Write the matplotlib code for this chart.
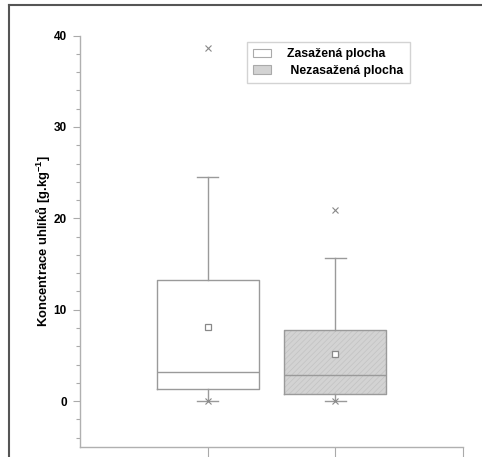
import numpy as np
import matplotlib
matplotlib.use("Agg")
import matplotlib.pyplot as plt
from matplotlib.patches import Patch
from matplotlib.lines import Line2D

plt.rcParams['font.family'] = ['Liberation Sans', 'DejaVu Sans']
plt.rcParams['font.weight'] = 'bold'
plt.rcParams['mathtext.fontset'] = 'custom'
plt.rcParams['mathtext.rm'] = 'Liberation Sans:bold'
plt.rcParams['mathtext.default'] = 'rm'
plt.rcParams['hatch.color'] = '#c2c2c2'
plt.rcParams['hatch.linewidth'] = 0.5

# box statistics
labels = ["Zasažená plocha", " Nezasažená plocha"]
positions = [1, 2]
q1 = [1.3, 0.8]
med = [3.2, 2.8]
q3 = [13.3, 7.8]
whis_lo = [0.0, 0.0]
whis_hi = [24.5, 15.7]
means = [8.1, 5.2]
fliers = [[38.6, 0.0], [20.9, 0.0]]
fills = ["white", "#d3d3d3"]

stats = []
for i in range(2):
    stats.append(dict(med=med[i], q1=q1[i], q3=q3[i], whislo=whis_lo[i],
                      whishi=whis_hi[i], mean=means[i], fliers=fliers[i]))

fig = plt.figure(figsize=(4.82, 4.57), dpi=100)
ax = fig.add_axes([0.166, 0.0225, 0.7946, 0.8995])

# fill of the second box (hatched grey)
ax.bar(positions[1], q3[1] - q1[1], bottom=q1[1], width=0.8,
       color=fills[1], edgecolor=None, hatch='//////', zorder=1)

gray = '#9a9a9a'
ax.bxp(stats, positions=positions, widths=0.8, capwidths=0.16,
       showmeans=True, showfliers=True, patch_artist=False,
       boxprops=dict(color=gray, linewidth=1.0),
       whiskerprops=dict(color=gray, linewidth=1.0),
       capprops=dict(color=gray, linewidth=1.0),
       medianprops=dict(color=gray, linewidth=1.0),
       meanprops=dict(marker='s', markersize=5, markerfacecolor='white',
                      markeredgecolor='#888888', markeredgewidth=0.9),
       flierprops=dict(marker='x', markersize=5, markeredgecolor='#888888',
                       markeredgewidth=0.8, linestyle='none'),
       zorder=2)

ax.set_xlim(0, 3)
ax.set_ylim(-5, 40)
ax.set_yticks([0, 10, 20, 30, 40])
ax.set_yticks(np.arange(-4, 40, 2), minor=True)
ax.set_xticks([1, 2, 3])
ax.set_xticklabels([])
ax.tick_params(axis='y', which='major', length=5, width=0.8, color='#aaaaaa',
               labelsize=8.5, pad=4.5)
ax.tick_params(axis='y', which='minor', length=3, width=0.8, color='#aaaaaa')
ax.tick_params(axis='x', which='major', length=7.5, width=0.8, color='#aaaaaa')

for s in ['top', 'right']:
    ax.spines[s].set_visible(False)
for s in ['left', 'bottom']:
    ax.spines[s].set_color('#b0b0b0')
    ax.spines[s].set_linewidth(1.0)

ax.set_ylabel("Koncentrace uhlíků [g.kg$^{-1}$]", fontsize=9.4,
              fontweight='bold', labelpad=1)

handles = [Patch(facecolor=fills[0], edgecolor='#aaaaaa', linewidth=0.8),
           Patch(facecolor=fills[1], edgecolor='#aaaaaa', linewidth=0.8)]
leg = ax.legend(handles, labels, loc='upper left',
                bbox_to_anchor=(0.436, 0.985), fontsize=8.8,
                frameon=True, fancybox=False, borderpad=0.5,
                handlelength=1.5, handleheight=0.65, handletextpad=1.3,
                labelspacing=0.4, borderaxespad=0)
leg.get_frame().set_edgecolor('#c8c8c8')
leg.get_frame().set_linewidth(1.0)

# outer frame of the picture (top and left edges)
fig.add_artist(Line2D([9 / 482, 9 / 482], [0, 1 - 5 / 457], color='#555555',
                      linewidth=1.5, transform=fig.transFigure))
fig.add_artist(Line2D([9 / 482, 1], [1 - 5 / 457, 1 - 5 / 457], color='#555555',
                      linewidth=1.5, transform=fig.transFigure))

fig.savefig("out.png", dpi=100)
